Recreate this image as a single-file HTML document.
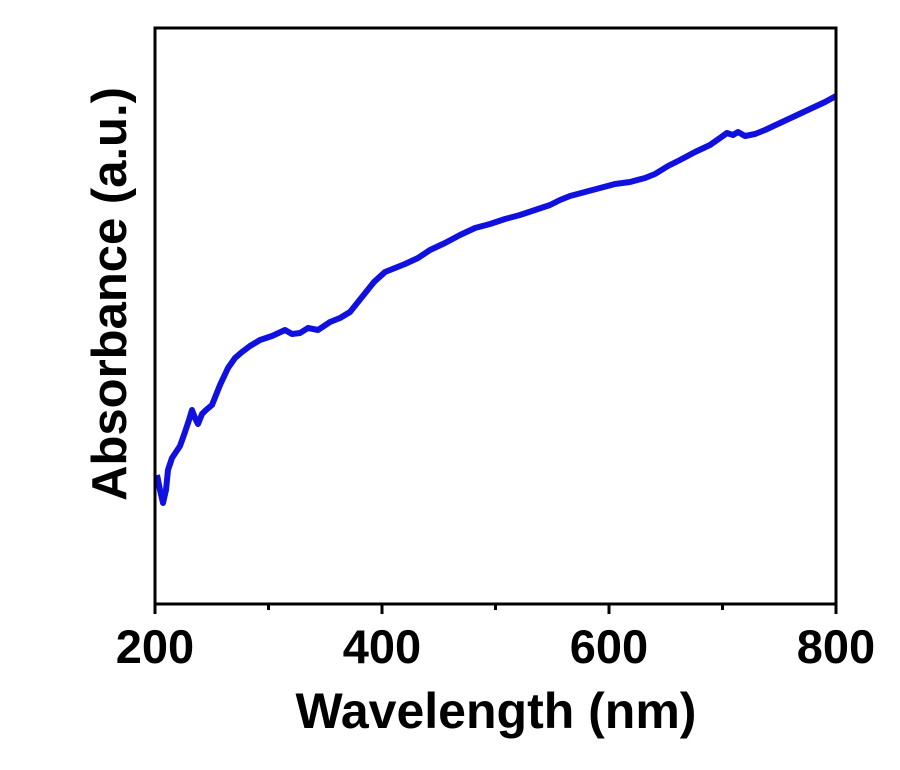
<!DOCTYPE html>
<html><head><style>body{margin:0;background:#fff}svg{display:block}</style></head><body>
<svg width="900" height="770" xmlns="http://www.w3.org/2000/svg" font-family="Liberation Sans, Arial, sans-serif" font-weight="bold">
<rect width="900" height="770" fill="#fff"/>
<polyline fill="none" stroke="#1010e0" stroke-width="6" stroke-linejoin="round" points="157,475 160,490 163,503 166,490 168,470 172,458 176,452 180,446 185,432 189,420 192,410 195,418 198,424 202,414 206,410 212,405 216,395 220,385 228,368 235,358 242,352 250,346 260,340 272,336 285,330 292,334 300,333 308,328 318,330 330,322 340,318 350,312 358,302 366,292 374,282 385,272 395,268 405,264 418,258 430,250 445,243 460,235 475,228 490,224 505,219 520,215 535,210 550,205 560,200 570,196 585,192 600,188 615,184 630,182 645,178 655,174 668,166 680,160 695,152 710,145 720,138 727,133 733,135 738,132 745,136 755,134 765,130 780,123 795,116 810,109 825,102 836,96"/>
<rect x="155" y="28" width="681" height="576" fill="none" stroke="#000" stroke-width="3"/>
<g stroke="#000" stroke-width="3">
<line x1="155" y1="604" x2="155" y2="614"/><line x1="382" y1="604" x2="382" y2="614"/><line x1="609" y1="604" x2="609" y2="614"/><line x1="836" y1="604" x2="836" y2="614"/>
<line x1="268.5" y1="604" x2="268.5" y2="610"/><line x1="495.5" y1="604" x2="495.5" y2="610"/><line x1="722.5" y1="604" x2="722.5" y2="610"/>
</g>
<g font-size="47" text-anchor="middle" fill="#000">
<text x="155" y="663">200</text><text x="382" y="663">400</text><text x="609" y="663">600</text><text x="836" y="663">800</text>
<text x="496" y="728" font-size="50">Wavelength (nm)</text>
<text transform="translate(126,294) rotate(-90)" font-size="49">Absorbance (a.u.)</text>
</g>
</svg>
</body></html>
